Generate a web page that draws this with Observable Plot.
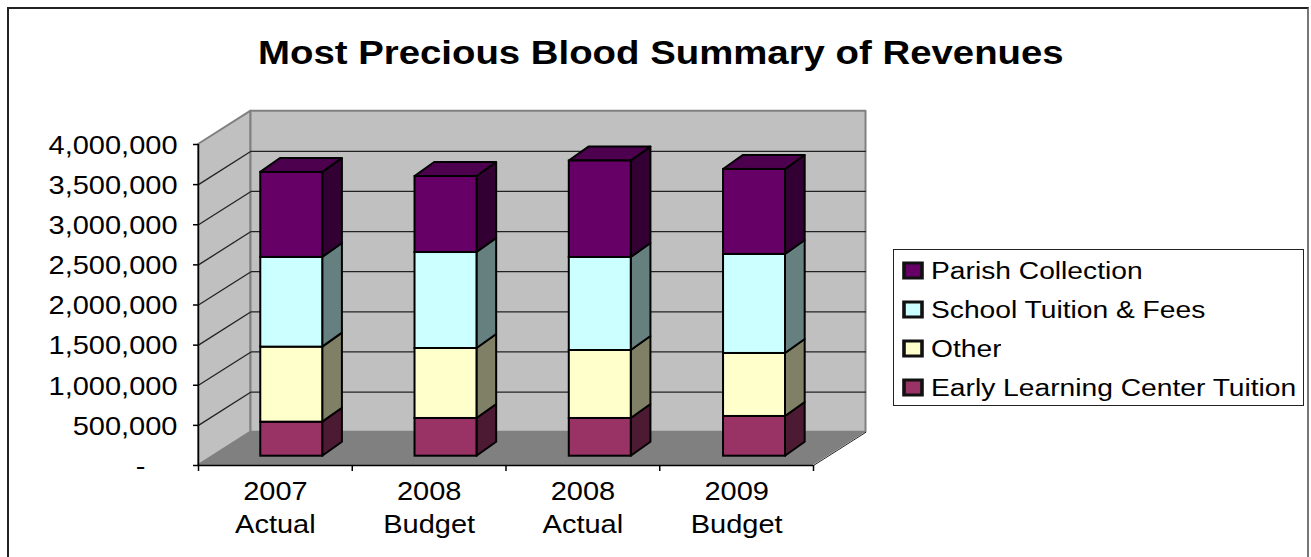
<!DOCTYPE html>
<html>
<head>
<meta charset="utf-8">
<script src="https://cdn.jsdelivr.net/npm/d3@7"></script>
<script src="https://cdn.jsdelivr.net/npm/@observablehq/plot@0.6"></script>
<style>
  html, body { margin: 0; padding: 0; background: #fff; overflow: hidden; width: 1311px; height: 557px; font-family: "Liberation Sans", Arial, sans-serif; }
  #frame { position: absolute; left: 7px; top: 7px; width: 1302px; height: 600px; border: 2px solid #222; border-right-color: #777; box-sizing: border-box; }
  #chart { position: absolute; left: 0; top: 0; }
  #chart svg { display: block; background: transparent; }
  #title { position: absolute; left: 258px; top: 34px; font-size: 33.5px; font-weight: bold; color: #000; white-space: nowrap; line-height: 38px; transform: scaleX(1.145); transform-origin: left center; }
  #legend { position: absolute; left: 893px; top: 249px; width: 411px; height: 157px; border: 1.5px solid #222; background: #fff; box-sizing: border-box; padding: 1.5px 0 0 10px; overflow: hidden; }
  #legend, #legend * { font-family: "Liberation Sans", Arial, sans-serif !important; }
  #legend > div { transform: scaleX(1.2); transform-origin: left center; width: 335px; margin: 0; min-height: 0; padding: 0; }
  #legend .lg-swatch { font-size: 23.5px; line-height: 38px; height: 38px; margin: 0; color: #000; }
  #legend svg { margin-right: 7.5px !important; }
  #legend svg rect { stroke: #111; stroke-width: 3px; }
</style>
</head>
<body>
<div id="frame"></div>
<div id="chart"></div>
<div id="title">Most Precious Blood Summary of Revenues</div>
<div id="legend"></div>
<script>
const categories = ["2007\nActual", "2008\nBudget", "2008\nActual", "2009\nBudget"];
const series = ["Early Learning Center Tuition", "Other", "School Tuition & Fees", "Parish Collection"];
const earlyLearning = [424000, 470000, 470000, 495000];
const other = [935000, 872000, 847000, 785000];
const schoolTuition = [1118000, 1196000, 1159000, 1234000];
const parish = [1059000, 947000, 1202000, 1059000];
const seriesValues = [earlyLearning, other, schoolTuition, parish];
const frontColors = ["#993366", "#FFFFCC", "#CCFFFF", "#660066"];
const sideColors = ["#4D1A33", "#808066", "#668080", "#330033"];
const topColor = "#4D004D";
const yTicks = [0, 500000, 1000000, 1500000, 2000000, 2500000, 3000000, 3500000, 4000000];

// Oblique projection of the depth axis, in data units of the two scales
const wallDX = 0.3416, wallDY = 415000;
const barLeft = 0.405, barWidth = 0.403, barStep = 1.0033;
const barLiftY = 116000;   // bars stand this far behind the front edge
const barDX = 0.128, barDY = 174000;

const n = categories.length;
const maxY = 4000000;

const sideFace = (x, v0, v1, dx, dy) => [
  {x, y1: v0, y2: v1},
  {x: x + dx, y1: v0 + dy, y2: v1 + dy}
];
const flatFace = (x0, x1, v, dx, dy) => [
  {y: v, x1: x0, x2: x1},
  {y: v + dy, x1: x0 + dx, x2: x1 + dx}
];

const segments = [];
categories.forEach((c, i) => {
  let base = 0;
  series.forEach((s, k) => {
    const v = seriesValues[k][i];
    const left = i * barStep + barLeft;
    segments.push({i, k, series: s, x1: left, x2: left + barWidth, y1: base + barLiftY, y2: base + v + barLiftY});
    base += v;
  });
});

const areaKw = {x: "x", y1: "y1", y2: "y2"};
const marks = [
  Plot.areaY(sideFace(0, 0, maxY, wallDX, wallDY), {...areaKw, fill: "#C0C0C0", stroke: "#808080", strokeWidth: 2}),
  Plot.areaY(sideFace(wallDX, wallDY, maxY + wallDY, n, 0), {...areaKw, fill: "#C0C0C0", stroke: "#808080", strokeWidth: 2}),
  Plot.areaX(flatFace(0, n, 0, wallDX, wallDY), {y: "y", x1: "x1", x2: "x2", fill: "#808080"}),
  Plot.link(yTicks.slice(1, -1), {x1: 0, x2: wallDX, y1: d => d, y2: d => d + wallDY, stroke: "#222", strokeWidth: 1.3}),
  Plot.link(yTicks.slice(1, -1), {x1: wallDX, x2: n + wallDX, y1: d => d + wallDY, y2: d => d + wallDY, stroke: "#222", strokeWidth: 1.3}),
  Plot.link([0], {x1: n, x2: n + wallDX, y1: 0, y2: wallDY, stroke: "#222", strokeWidth: 1})
];

segments.forEach(s => {
  marks.push(Plot.areaY(sideFace(s.x2, s.y1, s.y2, barDX, barDY), {...areaKw, fill: sideColors[s.k], stroke: "#000", strokeWidth: 2}));
  if (s.k === series.length - 1) {
    marks.push(Plot.areaX(flatFace(s.x1, s.x2, s.y2, barDX, barDY), {y: "y", x1: "x1", x2: "x2", fill: topColor, stroke: "#000", strokeWidth: 2}));
  }
});
marks.push(Plot.rect(segments, {x1: "x1", x2: "x2", y1: "y1", y2: "y2", fill: "series", stroke: "#000", strokeWidth: 2}));

marks.push(
  Plot.axisY({
    ticks: yTicks, tickSize: 5, tickPadding: 16, stroke: "#000", strokeWidth: 1.5, fontSize: 25, fill: "#000", label: null,
    tickFormat: d => d === 0 ? "-\u00a0\u00a0\u00a0\u00a0" : d3.format(",")(d)
  }),
  Plot.axisX({
    ticks: categories.map((c, i) => i + 0.5), tickSize: 0, tickPadding: 11, fontSize: 25, lineHeight: 1.33, fill: "#000", label: null,
    tickFormat: d => categories[Math.floor(d)]
  }),
  Plot.axisX({ticks: d3.range(n + 1), tickSize: 6, tickFormat: () => "", label: null, stroke: "#000", strokeWidth: 1.5}),
  Plot.ruleX([0], {y1: 0, y2: maxY, stroke: "#000", strokeWidth: 1.5}),
  Plot.ruleY([0], {x1: 0, x2: n, stroke: "#000", strokeWidth: 1.5})
);

const plot = Plot.plot({
  width: 1311, height: 557,
  marginLeft: 198, marginRight: 498, marginTop: 144, marginBottom: 92,
  x: {type: "linear", domain: [0, n], axis: null},
  y: {type: "linear", domain: [0, maxY], axis: null},
  color: {type: "ordinal", domain: series.slice().reverse(), range: frontColors.slice().reverse()},
  style: {fontFamily: "'Liberation Sans', Arial, sans-serif", background: "transparent", overflow: "visible"},
  marks
});
document.getElementById("chart").appendChild(plot);
document.getElementById("legend").appendChild(plot.legend("color", {legend: "swatches", columns: 1, swatchSize: 15, className: "lg"}));

// The reference's text is horizontally stretched: widen axis labels the same way
const stretch = 1.16;
plot.querySelectorAll("text").forEach(t => {
  const parts = t.querySelectorAll("tspan");
  (parts.length ? Array.from(parts) : [t]).forEach(el => {
    const len = el.getComputedTextLength();
    if (len > 0) {
      el.setAttribute("textLength", len * stretch);
      el.setAttribute("lengthAdjust", "spacingAndGlyphs");
    }
  });
  if (t.getAttribute("y") === "0.32em") t.setAttribute("y", "0.37em");
});
</script>
</body>
</html>
